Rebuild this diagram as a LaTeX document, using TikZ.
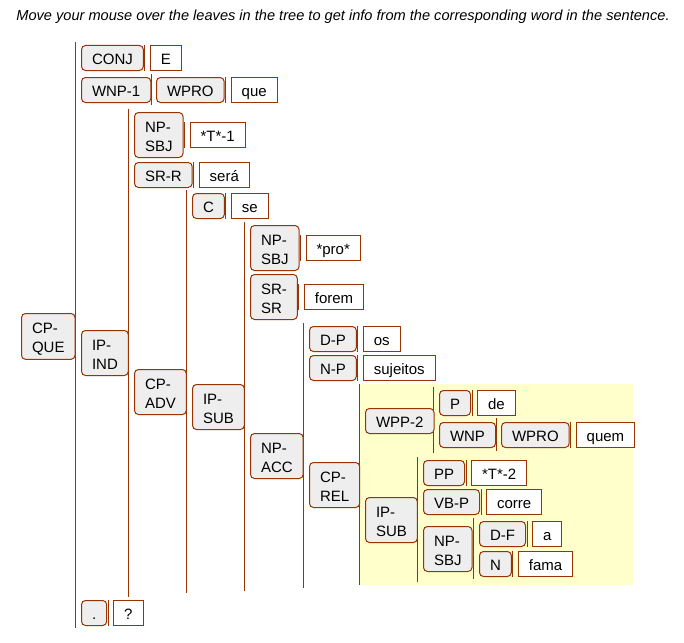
\documentclass[tikz,border=0pt]{standalone}
\usepackage{fontspec}
\setmainfont{Liberation Sans}
\usepackage{tikz}
\usetikzlibrary{positioning, calc}
\definecolor{treeline}{HTML}{993300}
\definecolor{catfill}{HTML}{EEEEEE}
\definecolor{relfill}{HTML}{FFFFCC}
% a category name broken over two lines
\newcommand{\catlines}[2]{\rule{0pt}{15pt}#1\\#2\rule[-2pt]{0pt}{2pt}}
\tikzset{
every node/.style={font=\fontsize{15}{19}\selectfont}, % font of all the boxes
node distance=6pt, % gap between a category and the word it holds
rule/.style={draw=treeline, line width=1pt}, % colour of every line and border
cat/.style={rule, fill=catfill, rounded corners=4pt, anchor=north west,
  inner xsep=10.5pt, inner ysep=4pt, text height=15pt, text depth=2pt}, % a category, one line
cat2/.style={rule, fill=catfill, rounded corners=4pt, anchor=north west,
  align=left, inner xsep=10.5pt, inner ysep=4.5pt, minimum height=45pt}, % a category, two lines
leaf/.style={rule, fill=white, inner xsep=10.5pt, inner ysep=4pt,
  text height=15pt, text depth=2pt}, % a word of the sentence
}

\begin{document}
\begin{tikzpicture}[x=1pt, y=-1pt]
    \useasboundingbox (0,0) rectangle (684,642);
    \node[font=\fontsize{14.6}{17}\selectfont\itshape] (caption) at (343,17)
      {Move your mouse over the leaves in the tree to get info from the corresponding word in the sentence.};
    % the relative clause is shaded
    \fill[relfill] (359,384) rectangle (633,585);
    % lines in front of the children of each category
    \draw[rule] (75,42) -- (75,628)
    (151,74) -- (151,105)
    (128,109) -- (128,597)
    (186,190) -- (186,593)
    (244,222) -- (244,591)
    (303,323) -- (303,588)
    (359,384) -- (359,585)
    (433,387) -- (433,453)
    (496,418) -- (496,451)
    (417,457) -- (417,582)
    (473,518) -- (473,579);

    \node[cat2] (cpque) at (21,313) {\catlines{CP-}{QUE}};
    \node[cat] (conj) at (81,45) {CONJ};
    \node[leaf, right=of conj] (e) {E};
    \node[cat] (wnp1) at (81,77) {WNP-1};
    \node[cat] (wpro1) at (156,77) {WPRO};
    \node[leaf, right=of wpro1] (que) {que};
    \node[cat2] (ipind) at (81,330) {\catlines{IP-}{IND}};
    \node[cat2] (npsbj1) at (134,112) {\catlines{NP-}{SBJ}};
    \node[leaf, right=of npsbj1] (t1) {*T*-1};
    \node[cat] (srr) at (134,162) {SR-R};
    \node[leaf, right=of srr] (sera) {será};
    \node[cat2] (cpadv) at (134,369) {\catlines{CP-}{ADV}};
    \node[cat] (c) at (192,193) {C};
    \node[leaf, right=of c] (se) {se};
    \node[cat2] (ipsub1) at (192,384) {\catlines{IP-}{SUB}};
    \node[cat2] (npsbj2) at (250,225) {\catlines{NP-}{SBJ}};
    \node[leaf, right=of npsbj2] (pro) {*pro*};
    \node[cat2] (srsr) at (250,274) {\catlines{SR-}{SR}};
    \node[leaf, right=of srsr] (forem) {forem};
    \node[cat2] (npacc) at (250,433) {\catlines{NP-}{ACC}};
    \node[cat] (dp) at (309,326) {D-P};
    \node[leaf, right=of dp] (os) {os};
    \node[cat] (np) at (309,355) {N-P};
    \node[leaf, right=of np] (sujeitos) {sujeitos};
    \node[cat2] (cprel) at (309,462) {\catlines{CP-}{REL}};
    \node[cat] (wpp2) at (365,408) {WPP-2};
    \node[cat] (p) at (439,390) {P};
    \node[leaf, right=of p] (de) {de};
    \node[cat] (wnp) at (439,422) {WNP};
    \node[cat] (wpro2) at (501,422) {WPRO};
    \node[leaf, right=of wpro2] (quem) {quem};
    \node[cat2] (ipsub2) at (365,497) {\catlines{IP-}{SUB}};
    \node[cat] (pp) at (423,460) {PP};
    \node[leaf, right=of pp] (t2) {*T*-2};
    \node[cat] (vbp) at (423,489) {VB-P};
    \node[leaf, right=of vbp] (corre) {corre};
    \node[cat2] (npsbj3) at (423,526) {\catlines{NP-}{SBJ}};
    \node[cat] (df) at (479,521) {D-F};
    \node[leaf, right=of df] (a) {a};
    \node[cat] (n) at (479,551) {N};
    \node[leaf, right=of n] (fama) {fama};
    \node[cat] (dot) at (81,600) {.};
    \node[leaf, right=of dot] (qmark) {?};

    % a short line in front of every word
    \draw[rule] ([xshift=-5]e.north west) -- ([xshift=-5]e.south west)
    ([xshift=-5]que.north west) -- ([xshift=-5]que.south west)
    ([xshift=-5]t1.north west) -- ([xshift=-5]t1.south west)
    ([xshift=-5]sera.north west) -- ([xshift=-5]sera.south west)
    ([xshift=-5]se.north west) -- ([xshift=-5]se.south west)
    ([xshift=-5]pro.north west) -- ([xshift=-5]pro.south west)
    ([xshift=-5]forem.north west) -- ([xshift=-5]forem.south west)
    ([xshift=-5]os.north west) -- ([xshift=-5]os.south west)
    ([xshift=-5]sujeitos.north west) -- ([xshift=-5]sujeitos.south west)
    ([xshift=-5]de.north west) -- ([xshift=-5]de.south west)
    ([xshift=-5]quem.north west) -- ([xshift=-5]quem.south west)
    ([xshift=-5]t2.north west) -- ([xshift=-5]t2.south west)
    ([xshift=-5]corre.north west) -- ([xshift=-5]corre.south west)
    ([xshift=-5]a.north west) -- ([xshift=-5]a.south west)
    ([xshift=-5]fama.north west) -- ([xshift=-5]fama.south west)
    ([xshift=-5]qmark.north west) -- ([xshift=-5]qmark.south west);
  \end{tikzpicture}
\end{document}
